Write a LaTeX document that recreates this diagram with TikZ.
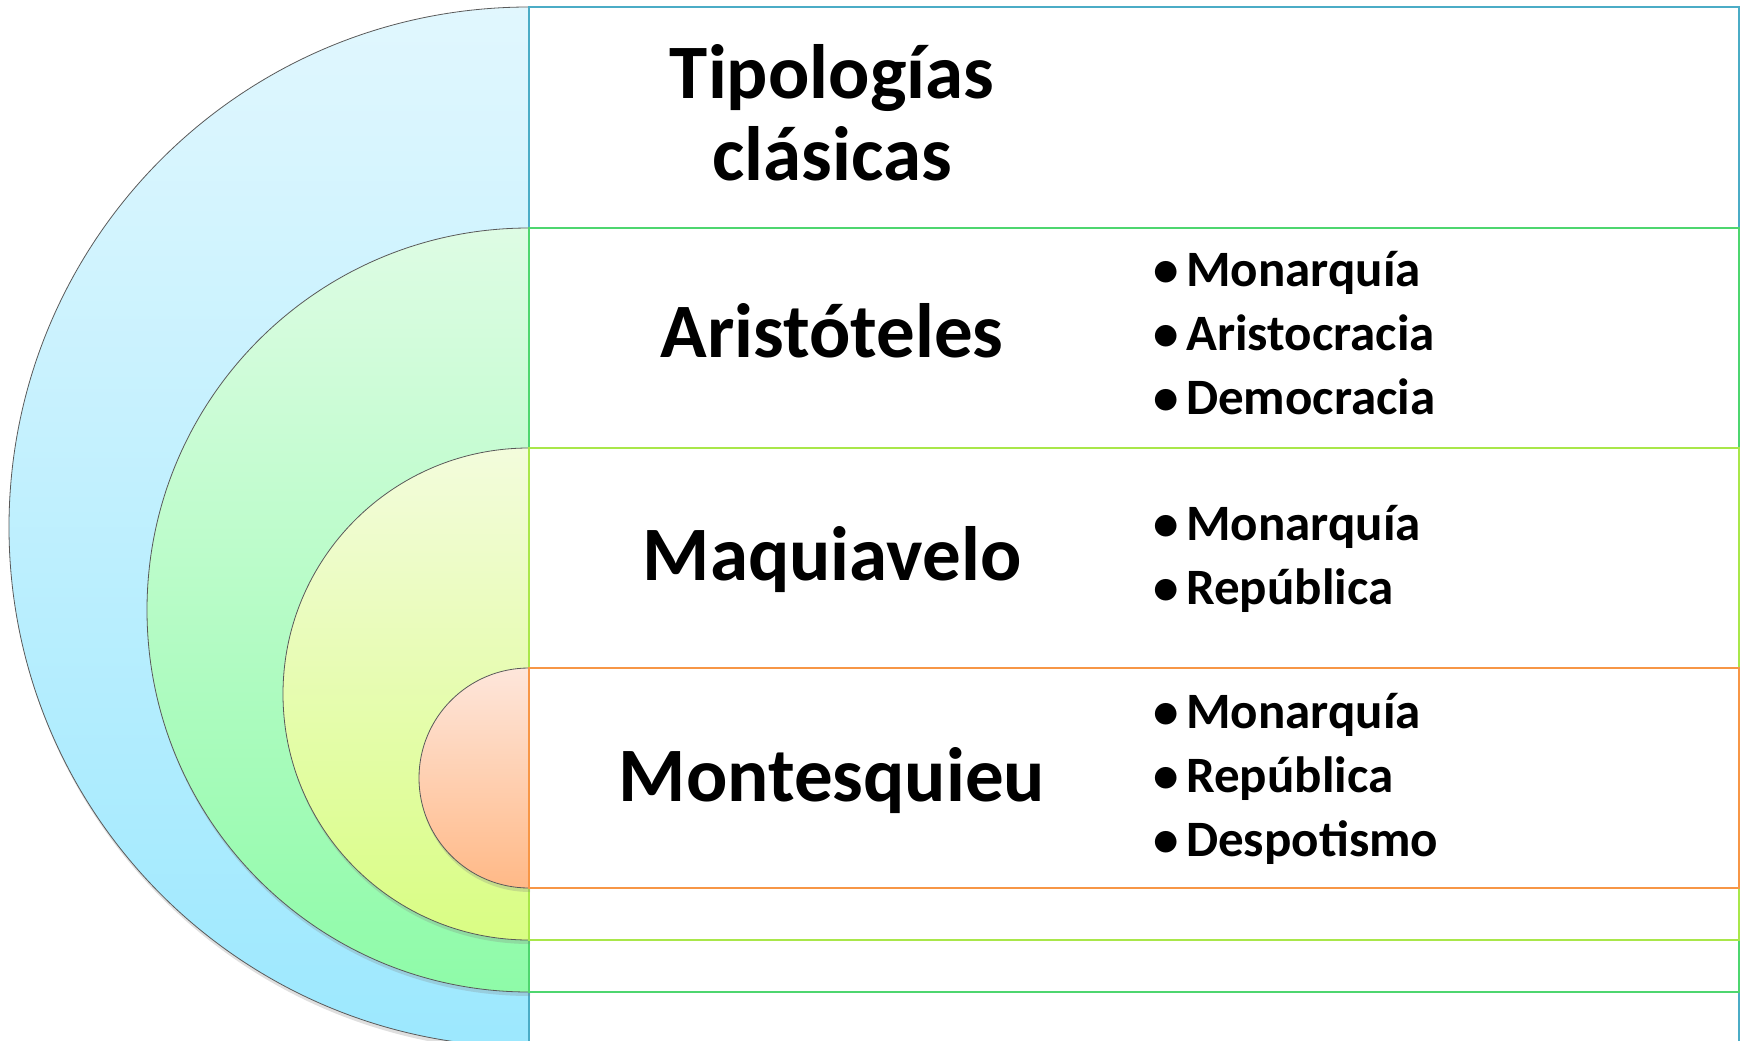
\documentclass[tikz,border=0pt]{standalone}
\usepackage{fontspec}
\setmainfont{Carlito}
\usetikzlibrary{shadows,positioning}
\usepackage{xcolor}

\definecolor{blueA}{HTML}{E1F7FE}
\definecolor{blueB}{HTML}{9CE8FE}
\definecolor{greenA}{HTML}{DEFCE4}
\definecolor{greenB}{HTML}{8EFBA8}
\definecolor{limeA}{HTML}{F3FCDC}
\definecolor{limeB}{HTML}{D9FD83}
\definecolor{orangeA}{HTML}{FEE6DB}
\definecolor{orangeB}{HTML}{FFB987}
\definecolor{blueline}{HTML}{4BACC6}
\definecolor{greenline}{HTML}{4ED66F}
\definecolor{limeline}{HTML}{A9E74A}
\definecolor{orangeline}{HTML}{F79646}

\newcommand{\itembul}{\makebox[33pt][l]{•}}

\begin{document}
\begin{tikzpicture}[x=1pt,y=1pt,
	ring/.style={draw=black!65,line width=0.8pt,drop shadow={opacity=0.25,shadow xshift=1pt,shadow yshift=-4pt}},
	band/.style={fill=white,line width=2pt},
	title/.style={font=\bfseries\fontsize{77}{82}\selectfont,anchor=base,inner sep=0pt},
	items/.style={font=\bfseries\fontsize{51}{64}\selectfont,align=left,anchor=base west,inner sep=0pt}]
\useasboundingbox(0,0)rectangle(1743,-1041);
\clip(0,0)rectangle(1743,-1041);
% outer level
\path[ring,top color=blueA,bottom color=blueB](529,-7)arc[start angle=90,end angle=270,radius=520]--cycle;
\draw[band,draw=blueline](529,-7)rectangle(1739,-1047);
% second level
\path[ring,top color=greenA,bottom color=greenB](529,-228)arc[start angle=90,end angle=270,radius=382]--cycle;
\draw[band,draw=greenline](529,-228)rectangle(1739,-992);
% third level
\path[ring,top color=limeA,bottom color=limeB](529,-448)arc[start angle=90,end angle=270,radius=246]--cycle;
\draw[band,draw=limeline](529,-448)rectangle(1739,-940);
% inner level
\path[ring,top color=orangeA,bottom color=orangeB](529,-668)arc[start angle=90,end angle=270,radius=110]--cycle;
\draw[band,draw=orangeline](529,-668)rectangle(1739,-888);

% last-line baselines
\node[title,align=center](tipo)at(832,-180){Tipologías\\clásicas};
\node[title](aris)at(832,-357){Aristóteles};
\node[title](maqu)at(832,-580){Maquiavelo};
\node[title](mont)at(832,-801){Montesquieu};

\node[items](l1)at(1153,-414){\itembul Monarquía\\\itembul Aristocracia\\\itembul Democracia};
\node[items](l2)at(1153,-604){\itembul Monarquía\\\itembul República};
\node[items](l3)at(1153,-856){\itembul Monarquía\\\itembul República\\\itembul Despotismo};
\end{tikzpicture}
\end{document}
